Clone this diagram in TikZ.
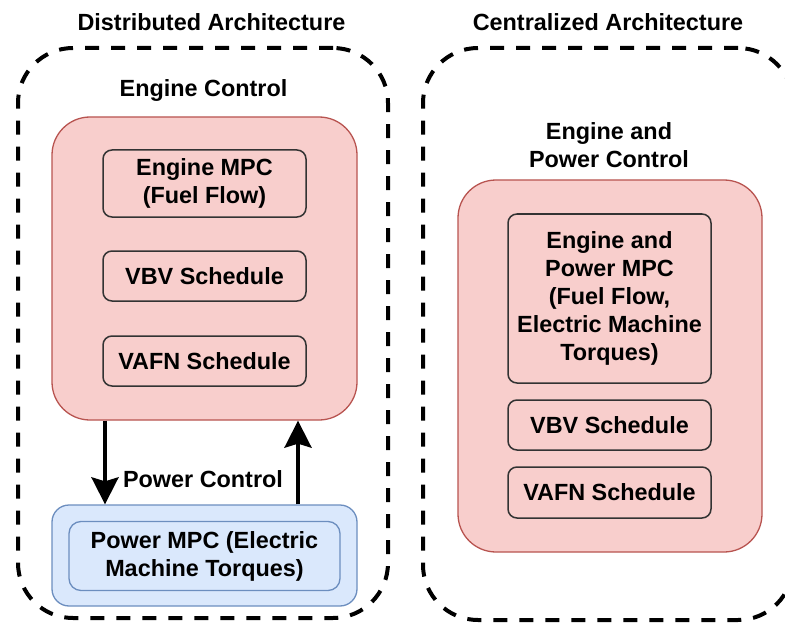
\documentclass[tikz,border=0pt]{standalone}
\usepackage{fontspec}
\setmainfont{Liberation Sans}
\usetikzlibrary{arrows.meta}
\definecolor{pinkfill}{HTML}{F8CECC}
\definecolor{pinkline}{HTML}{B85450}
\definecolor{bluefill}{HTML}{DAE8FC}
\definecolor{blueline}{HTML}{6C8EBF}
\definecolor{innerline}{HTML}{333333}
\tikzset{
  txt/.style={font=\fontsize{23.4}{28}\selectfont\bfseries, align=center, inner sep=0pt},
  archbox/.style={draw=black, line width=4pt, dash pattern=on 14pt off 12pt, rounded corners=55pt, inner sep=0pt},
  pinkouter/.style={draw=pinkline, fill=pinkfill, line width=1.3pt, rounded corners=38pt, inner sep=0pt},
  pinkinner/.style={draw=innerline, fill=pinkfill, line width=1.5pt, rounded corners=9pt, inner sep=0pt, txt},
  blueouter/.style={draw=blueline, fill=bluefill, line width=1.3pt, rounded corners=17pt, inner sep=0pt},
  blueinner/.style={draw=blueline, fill=bluefill, line width=1.3pt, rounded corners=12pt, inner sep=0pt, txt},
  arr/.style={line width=4pt, -{Stealth[length=27pt, width=27pt, inset=4pt]}}
}
\begin{document}
\begin{tikzpicture}[x=1pt, y=-1pt]
\useasboundingbox (0,0) rectangle (785,623);
% titles
\node[txt] (t1) at (211.5,22) {Distributed Architecture};
\node[txt] (t2) at (608,22) {Centralized Architecture};
% dashed containers
\node[archbox, minimum width=370pt, minimum height=570pt] (distbox) at (203,333) {};
\node[archbox, minimum width=370pt, minimum height=572pt] (centbox) at (608,334) {};
% left side
\node[txt] (englabel) at (203.5,91) {Engine Control};
\node[pinkouter, minimum width=305pt, minimum height=303pt] (engL) at (204.5,268.5) {};
\node[pinkinner, minimum width=203pt, minimum height=67pt] (mpcL) at (204.5,183.5) {Engine MPC\\(Fuel Flow)};
\node[pinkinner, minimum width=203pt, minimum height=50pt] (vbvL) at (204.5,276) {VBV Schedule};
\node[pinkinner, minimum width=203pt, minimum height=50pt] (vafnL) at (204.5,361) {VAFN Schedule};
\node[txt] (powlabel) at (203,479) {Power Control};
\node[blueouter, minimum width=305pt, minimum height=101pt] (powL) at (204.5,555.5) {};
\node[blueinner, minimum width=271pt, minimum height=69pt] (pmpc) at (204.5,556) {Power MPC (Electric\\Machine Torques)};
\coordinate (a1) at (105,0);
\coordinate (a2) at (298,0);
\draw[arr] (engL.south -| a1) -- (powL.north -| a1);
\draw[arr] (powL.north -| a2) -- (engL.south -| a2);
% right side
\node[txt] (eplabel) at (609,145) {Engine and\\Power Control};
\node[pinkouter, minimum width=304pt, minimum height=372pt] (engR) at (610,366) {};
\node[pinkinner, minimum width=203pt, minimum height=169pt] (mpcR) at (609.5,298.5) {Engine and\\Power MPC\\(Fuel Flow,\\Electric Machine\\Torques)};
\node[pinkinner, minimum width=203pt, minimum height=50pt] (vbvR) at (609.5,425) {VBV Schedule};
\node[pinkinner, minimum width=203pt, minimum height=51pt] (vafnR) at (609.5,492.5) {VAFN Schedule};
\end{tikzpicture}
\end{document}
